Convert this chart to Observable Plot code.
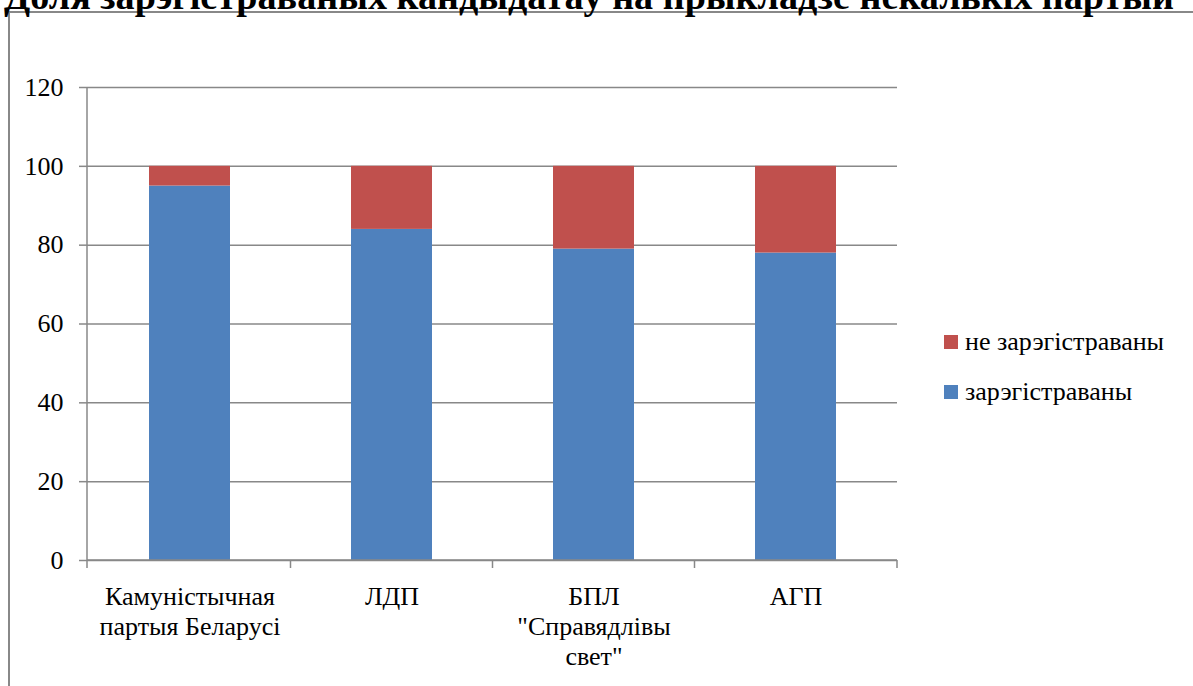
<!DOCTYPE html>
<html>
<head>
<meta charset="utf-8">
<script src="https://cdn.jsdelivr.net/npm/d3@7"></script>
<script src="https://cdn.jsdelivr.net/npm/@observablehq/plot@0.6"></script>
<style>
  html, body { margin: 0; padding: 0; background: #fff; }
  #wrap { position: relative; width: 1193px; height: 686px; overflow: hidden; font-family: "Times New Roman", Times, "Liberation Serif", Tinos, "Noto Serif", "DejaVu Serif", FreeSerif, serif; }
  #frame { position: absolute; left: 8px; top: 11px; width: 1300px; height: 800px; border-left: 2px solid #888; border-top: 2px solid #888; box-sizing: border-box; }
  #title { position: absolute; left: 0; top: 0; }
  #chart { position: absolute; left: 0; top: 0; }
  #chart svg, #chart svg text, #title text { font-family: "Times New Roman", Times, "Liberation Serif", Tinos, "Noto Serif", "DejaVu Serif", FreeSerif, serif !important; }
  .leg { position: absolute; left: 944px; font-size: 26px; color: #000; display: flex; align-items: center; white-space: nowrap; }
  .leg span.sw { display: inline-block; width: 14px; height: 14px; margin-right: 7px; }
</style>
</head>
<body>
<div id="wrap">
  <div id="frame"></div>
  <div id="chart"></div>
  <svg id="title" width="1193" height="20"><text x="4" y="9" font-weight="bold" font-size="38" textLength="1170" lengthAdjust="spacingAndGlyphs">Доля зарэгістраваных кандыдатаў на прыкладзе некалькіх партый</text></svg>
  <div class="leg" style="top:327px"><span class="sw" style="background:#C0504D"></span>не зарэгістраваны</div>
  <div class="leg" style="top:377px"><span class="sw" style="background:#4F81BD"></span>зарэгістраваны</div>
</div>
<script>
const categories = ["Камуністычная партыя Беларусі", "ЛДП", "БПЛ \"Справядлівы свет\"", "АГП"];
const tickLabels = ["Камуністычная\nпартыя Беларусі", "ЛДП", "БПЛ\n\"Справядлівы\nсвет\"", "АГП"];
const seriesNames = ["зарэгістраваны", "не зарэгістраваны"];
const registered = [95, 84, 79, 78];
const notRegistered = [5, 16, 21, 22];
const yTicks = [0, 20, 40, 60, 80, 100, 120];
const seriesColors = ["#4F81BD", "#C0504D"];
const gridColor = "#888888";

const rows = [];
categories.forEach((c, i) => rows.push({party: c, series: seriesNames[0], value: registered[i]}));
categories.forEach((c, i) => rows.push({party: c, series: seriesNames[1], value: notRegistered[i]}));

function axesMark(index, scales, values, dims) {
  const x = scales.x, y = scales.y;
  const left = dims.marginLeft, right = dims.width - dims.marginRight;
  const y0 = y(0), yTop = y(120);
  const bw = typeof x.bandwidth === "function" ? x.bandwidth() : 0;
  const centers = categories.map(c => x(c) + bw / 2);
  const bounds = [left];
  for (let i = 0; i < centers.length - 1; i++) bounds.push((centers[i] + centers[i + 1]) / 2);
  bounds.push(right);
  const g = d3.create("svg:g").attr("stroke", gridColor).attr("stroke-width", 1.5).attr("fill", "none");
  g.append("line").attr("x1", left).attr("x2", left).attr("y1", yTop).attr("y2", y0);
  g.append("line").attr("x1", left).attr("x2", right).attr("y1", y0).attr("y2", y0);
  for (const b of bounds) g.append("line").attr("x1", b).attr("x2", b).attr("y1", y0).attr("y2", y0 + 8);
  return g.node();
}

const chart = Plot.plot({
  width: 1193,
  height: 686,
  marginLeft: 87,
  marginRight: 296,
  marginTop: 87,
  marginBottom: 126,
  style: {fontSize: "26px", color: "#000", background: "transparent"},
  x: {domain: categories, paddingInner: 0.6, paddingOuter: 0.3, label: null},
  y: {domain: [0, 120], label: null},
  color: {domain: seriesNames, range: seriesColors},
  marks: [
    Plot.gridY(yTicks, {stroke: gridColor, strokeOpacity: 1, strokeWidth: 1.5}),
    Plot.barY(rows, Plot.stackY({x: "party", y: "value", z: "series", fill: "series", order: null})),
    axesMark,
    Plot.axisY({ticks: yTicks, tickSize: 8, tickPadding: 16, fontSize: 26, stroke: gridColor, strokeWidth: 1.5, fill: "#000", label: null}),
    Plot.axisX({tickSize: 0, tickPadding: 23, fontSize: 26, lineHeight: 1.15, fill: "#000", label: null,
      tickFormat: d => tickLabels[categories.indexOf(d)]})
  ]
});
document.getElementById("chart").appendChild(chart);
</script>
</body>
</html>
